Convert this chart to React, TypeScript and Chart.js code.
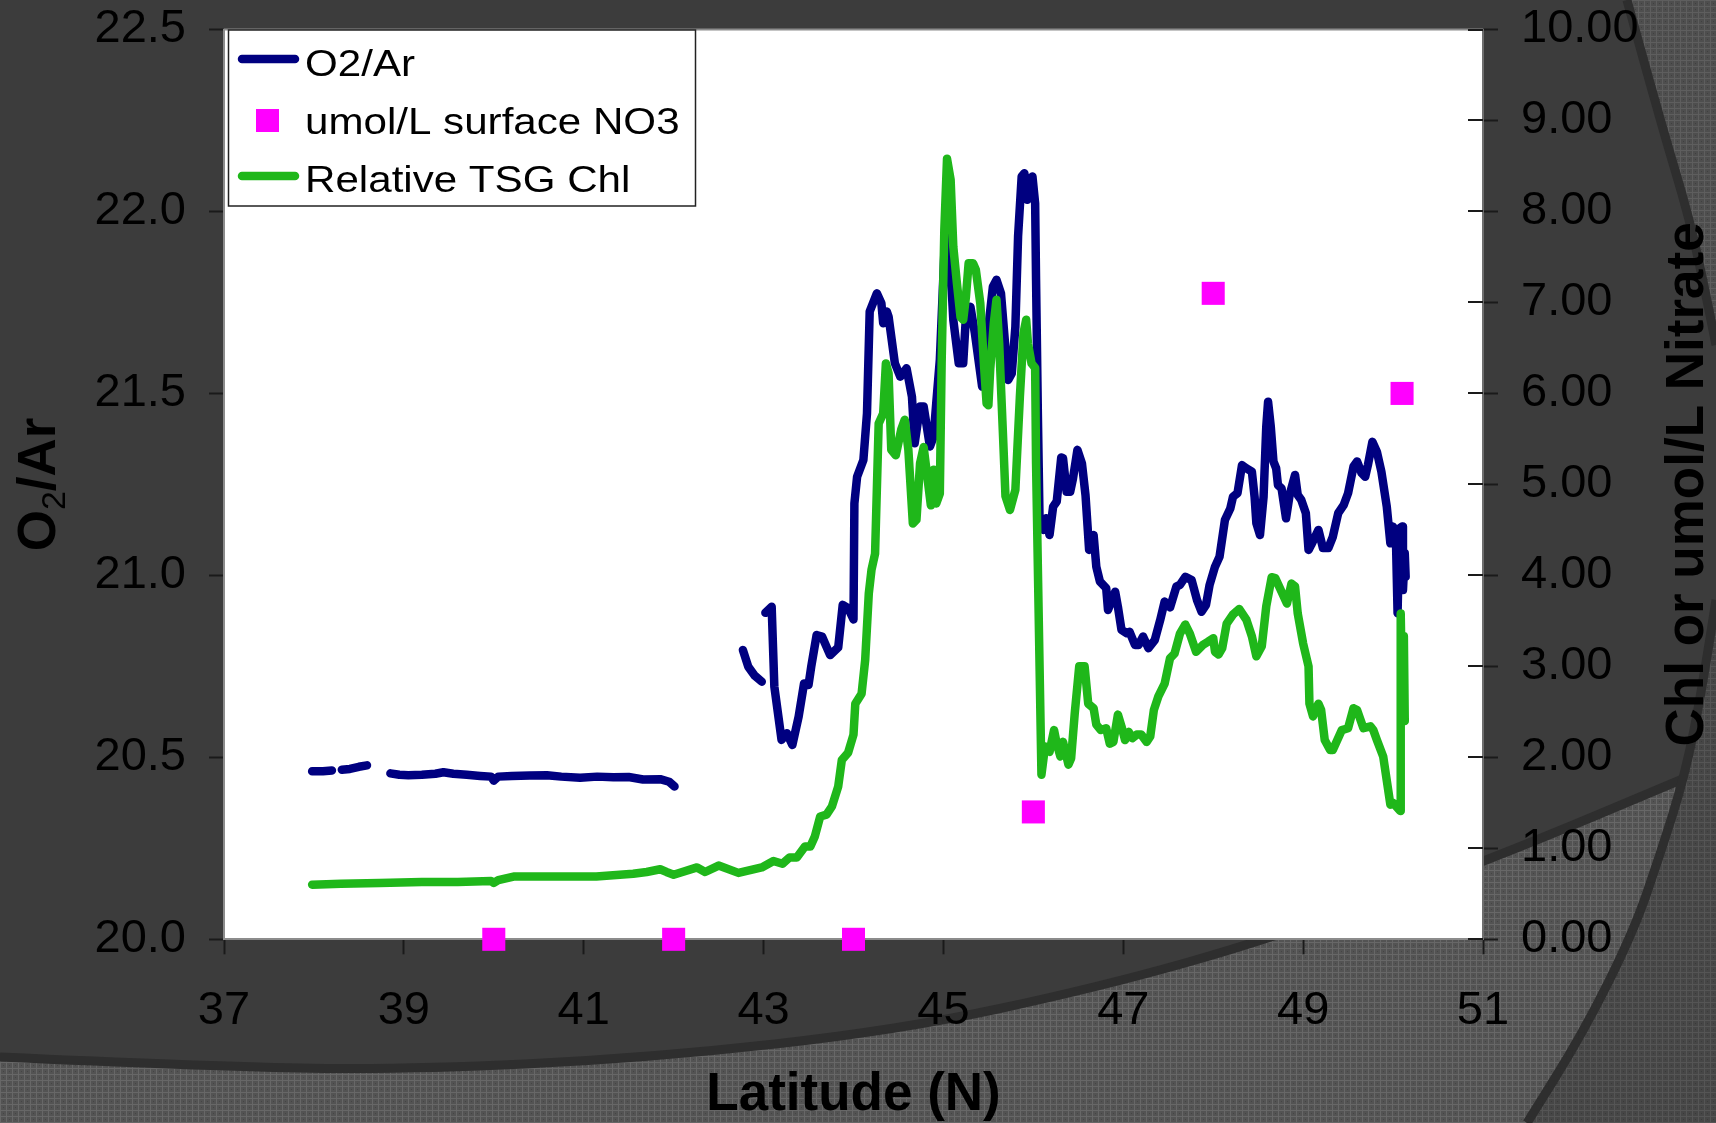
import React, { useEffect, useRef } from 'react';
import { Chart, registerables } from 'chart.js';

Chart.register(...registerables);

// ---------------- DATA ----------------
const seriesNames = ['O2/Ar', 'umol/L surface NO3', 'Relative TSG Chl'];

const latTicks = [37, 39, 41, 43, 45, 47, 49, 51];
const o2Ticks = [20.0, 20.5, 21.0, 21.5, 22.0, 22.5];
const chlTicks = [0, 1, 2, 3, 4, 5, 6, 7, 8, 9, 10];

// O2/Ar (left axis); null = gap in the record
const o2Lat = [
  37.98, 38.1, 38.2, 38.25,
  38.31, 38.4, 38.5, 38.59, 38.7,
  38.85, 38.95, 39.05, 39.2, 39.35, 39.44, 39.55, 39.7, 39.85, 39.97, 40.0, 40.05, 40.2, 40.4, 40.59, 40.75,
  40.96, 41.15, 41.33, 41.5, 41.66, 41.85, 41.95, 42.01, 42.3,
  42.77, 42.83, 42.9, 42.98, 43.0,
  43.02, 43.09, 43.12, 43.2, 43.26, 43.32, 43.39, 43.45, 43.5, 43.53, 43.59, 43.65, 43.74, 43.83, 43.88,
  43.94, 44.0, 44.01, 44.04, 44.11, 44.15, 44.18, 44.26, 44.31, 44.33, 44.37, 44.39, 44.46, 44.52, 44.59,
  44.65, 44.68, 44.74, 44.78, 44.85, 44.89, 44.92, 44.96, 45.04, 45.07, 45.11, 45.17, 45.22, 45.25, 45.3,
  45.35, 45.43, 45.48, 45.55, 45.59, 45.64, 45.7, 45.72, 45.76, 45.8, 45.83, 45.87, 45.9, 45.93, 45.96,
  45.99, 46.02, 46.03, 46.05, 46.07, 46.11, 46.14, 46.18, 46.22, 46.26, 46.31, 46.33, 46.37, 46.41, 46.44,
  46.49, 46.54, 46.58, 46.62, 46.67, 46.7, 46.74, 46.81, 46.83, 46.91, 46.94, 46.98, 47.04, 47.07, 47.13,
  47.17, 47.22, 47.28, 47.35, 47.41, 47.46, 47.52, 47.59, 47.63, 47.69, 47.76, 47.82, 47.87, 47.92, 47.96,
  48.02, 48.07, 48.13, 48.19, 48.22, 48.27, 48.32, 48.37, 48.43, 48.46, 48.48, 48.52, 48.56, 48.59, 48.61,
  48.64, 48.67, 48.7, 48.72, 48.76, 48.81, 48.85, 48.91, 48.94, 48.98, 49.03, 49.06, 49.09, 49.17, 49.22,
  49.28, 49.33, 49.39, 49.45, 49.5, 49.56, 49.6, 49.65, 49.69, 49.72, 49.77, 49.82, 49.87, 49.93, 49.97,
  50.0, 50.03, 50.05, 50.07, 50.1, 50.11, 50.13, 50.14,
];
const o2Val = [
  20.462, 20.462, 20.464, null,
  20.466, 20.468, 20.474, 20.478, null,
  20.456, 20.452, 20.451, 20.452, 20.455, 20.459, 20.455, 20.452, 20.449, 20.447, 20.436, 20.447, 20.449, 20.45, 20.451, 20.447,
  20.444, 20.447, 20.445, 20.446, 20.439, 20.44, 20.433, 20.42, null,
  20.795, 20.749, 20.725, 20.708, null,
  20.897, 20.914, 20.694, 20.548, 20.566, 20.534, 20.612, 20.703, 20.699, 20.749, 20.836, 20.832, 20.781, 20.802, 20.919,
  20.91, 20.879, 21.198, 21.271, 21.317, 21.445, 21.725, 21.775, 21.748, 21.693, 21.725, 21.711, 21.583, 21.546, 21.569,
  21.491, 21.363, 21.464, 21.464, 21.354, 21.381, 21.473, 21.592, 22.059, 21.885, 21.702, 21.583, 21.583, 21.711, 21.738,
  21.665, 21.519, 21.638, 21.793, 21.812, 21.775, 21.592, 21.537, 21.555, 21.683, 21.931, 22.096, 22.105, 22.032, 22.087,
  22.096, 22.022, 21.812, 21.445, 21.134, 21.125, 21.157, 21.111, 21.189, 21.203, 21.324, 21.322, 21.23, 21.23, 21.265,
  21.345, 21.308, 21.22, 21.07, 21.111, 21.024, 20.983, 20.965, 20.905, 20.955, 20.914, 20.85, 20.841, 20.845, 20.809,
  20.809, 20.832, 20.8, 20.822, 20.877, 20.928, 20.912, 20.969, 20.974, 20.996, 20.987, 20.932, 20.9, 20.919, 20.974,
  21.024, 21.051, 21.152, 21.184, 21.216, 21.226, 21.303, 21.294, 21.285, 21.216, 21.143, 21.111, 21.216, 21.409, 21.477,
  21.409, 21.313, 21.294, 21.248, 21.239, 21.157, 21.221, 21.276, 21.221, 21.207, 21.171, 21.07, 21.084, 21.125, 21.075,
  21.075, 21.106, 21.171, 21.193, 21.226, 21.299, 21.313, 21.281, 21.271, 21.303, 21.367, 21.34, 21.285, 21.189, 21.088,
  21.134, 21.12, 20.896, 21.129, 21.134, 20.96, 21.061, 20.996,
];

// Relative TSG Chl (right axis)
const chlLat = [
  37.98, 38.3, 38.73, 39.2, 39.6, 39.97, 40.0, 40.05, 40.22, 40.6, 41.14, 41.55, 41.7, 41.85, 41.92,
  42.0, 42.26, 42.35, 42.5, 42.72, 42.98, 43.11, 43.21, 43.29, 43.37, 43.46, 43.52, 43.57, 43.63, 43.7,
  43.76, 43.83, 43.87, 43.94, 44.0, 44.02, 44.09, 44.13, 44.17, 44.2, 44.24, 44.28, 44.33, 44.36, 44.39,
  44.42, 44.47, 44.53, 44.57, 44.61, 44.66, 44.7, 44.74, 44.78, 44.83, 44.86, 44.89, 44.92, 44.96, 44.98,
  45.01, 45.04, 45.08, 45.11, 45.15, 45.19, 45.22, 45.25, 45.28, 45.33, 45.36, 45.41, 45.45, 45.48, 45.5,
  45.52, 45.56, 45.59, 45.62, 45.66, 45.69, 45.74, 45.8, 45.85, 45.89, 45.92, 45.94, 45.98, 46.02, 46.03,
  46.09, 46.13, 46.18, 46.23, 46.26, 46.3, 46.33, 46.39, 46.42, 46.46, 46.51, 46.57, 46.61, 46.67, 46.7,
  46.75, 46.81, 46.85, 46.89, 46.94, 46.98, 47.02, 47.06, 47.1, 47.15, 47.2, 47.26, 47.3, 47.34, 47.39,
  47.46, 47.52, 47.57, 47.63, 47.69, 47.74, 47.81, 47.89, 47.94, 48.0, 48.02, 48.06, 48.1, 48.15, 48.22,
  48.29, 48.37, 48.43, 48.48, 48.54, 48.59, 48.65, 48.69, 48.76, 48.82, 48.87, 48.91, 48.94, 49.0, 49.06,
  49.07, 49.11, 49.17, 49.2, 49.24, 49.3, 49.33, 49.43, 49.5, 49.56, 49.6, 49.67, 49.75, 49.78, 49.82,
  49.89, 49.97, 50.0, 50.08, 50.085, 50.1, 50.12, 50.13,
];
const chlVal = [
  0.6, 0.61, 0.62, 0.63, 0.63, 0.64, 0.62, 0.65, 0.69, 0.69, 0.69, 0.72, 0.74, 0.77, 0.74,
  0.71, 0.79, 0.74, 0.81, 0.73, 0.79, 0.86, 0.83, 0.9, 0.9, 1.02, 1.02, 1.13, 1.35, 1.37,
  1.46, 1.68, 1.97, 2.05, 2.25, 2.59, 2.7, 3.07, 3.8, 4.06, 4.24, 5.67, 5.78, 6.33, 6.22,
  5.38, 5.32, 5.6, 5.71, 5.38, 4.57, 4.61, 5.23, 5.41, 5.01, 4.77, 5.16, 4.79, 4.9, 6.33,
  7.8, 8.58, 8.35, 7.61, 7.21, 6.84, 6.81, 7.06, 7.43, 7.43, 7.36, 6.99, 6.33, 5.89, 5.87,
  6.26, 6.77, 7.03, 6.55, 5.6, 4.87, 4.72, 4.94, 5.96, 6.66, 6.81, 6.55, 6.33, 6.28, 5.23,
  1.81, 2.12, 2.06, 2.3, 2.15, 2.01, 2.17, 1.92, 1.99, 2.48, 3.0, 3.0, 2.59, 2.54, 2.36,
  2.3, 2.32, 2.15, 2.17, 2.47, 2.34, 2.19, 2.28, 2.21, 2.25, 2.25, 2.17, 2.23, 2.52, 2.67,
  2.81, 3.09, 3.14, 3.36, 3.46, 3.36, 3.16, 3.24, 3.27, 3.31, 3.16, 3.13, 3.2, 3.47, 3.57,
  3.63, 3.51, 3.33, 3.11, 3.22, 3.66, 3.98, 3.97, 3.82, 3.69, 3.91, 3.88, 3.58, 3.25, 3.0,
  2.59, 2.45, 2.59, 2.52, 2.19, 2.08, 2.08, 2.3, 2.32, 2.54, 2.52, 2.32, 2.34, 2.3, 2.19,
  2.01, 1.48, 1.5, 1.41, 3.58, 2.7, 3.33, 2.4,
];

// umol/L surface NO3 (right axis)
const no3Lat = [40, 42, 44, 46, 48, 50.1];
const no3Val = [0, 0, 0, 1.4, 7.1, 6.0];

// ---------------- STYLE ----------------
const FONT = "'Liberation Sans', Arial, Helvetica, sans-serif";
const NAVY = '#000080';
const GREEN = '#1fb71a';
const MAGENTA = '#ff00ff';
const BG = '#3c3c3c';
const LINE_W = 8.5;

function makePattern(ctx: CanvasRenderingContext2D, base: string, line: string, dot: string) {
  const c = document.createElement('canvas');
  c.width = 6;
  c.height = 6;
  const g = c.getContext('2d')!;
  g.fillStyle = base;
  g.fillRect(0, 0, 6, 6);
  g.fillStyle = line;
  g.fillRect(0, 0, 6, 1);
  g.fillRect(0, 0, 1, 6);
  g.fillStyle = dot;
  g.fillRect(3, 3, 1, 1);
  return ctx.createPattern(c, 'repeat');
}

function smoothPath(ctx: CanvasRenderingContext2D, pts: number[][], move: boolean) {
  if (move) ctx.moveTo(pts[0][0], pts[0][1]);
  else ctx.lineTo(pts[0][0], pts[0][1]);
  for (let i = 1; i < pts.length - 1; i++) {
    const mx = (pts[i][0] + pts[i + 1][0]) / 2;
    const my = (pts[i][1] + pts[i + 1][1]) / 2;
    ctx.quadraticCurveTo(pts[i][0], pts[i][1], mx, my);
  }
  const last = pts[pts.length - 1];
  ctx.lineTo(last[0], last[1]);
}

const bottomCurve = [[0, 1057], [200, 1066], [400, 1070], [650, 1058], [900, 1030], [1100, 987], [1270, 939], [1483, 863], [1716, 765]];
const rightCurve = [[1716, 600], [1702, 690], [1685, 775], [1660, 855], [1633, 933], [1583, 1033], [1527, 1123]];
const topRightCurve = [[1627, 0], [1660, 120], [1690, 220], [1707, 300], [1716, 345]];

const backgroundPlugin = {
  id: 'slideBackground',
  beforeDraw(chart: any) {
    const { ctx, width, height, chartArea } = chart;
    ctx.save();
    ctx.fillStyle = BG;
    ctx.fillRect(0, 0, width, height);

    // bottom textured region
    ctx.beginPath();
    ctx.moveTo(0, height);
    smoothPath(ctx, bottomCurve, false);
    ctx.lineTo(width, height);
    ctx.closePath();
    ctx.fillStyle = makePattern(ctx, '#535353', '#676767', '#454545');
    ctx.fill();
    ctx.beginPath();
    smoothPath(ctx, bottomCurve, true);
    ctx.strokeStyle = '#2e2e2e';
    ctx.lineWidth = 9;
    ctx.stroke();

    // right lower textured region
    ctx.beginPath();
    smoothPath(ctx, rightCurve, true);
    ctx.lineTo(width, height);
    ctx.closePath();
    ctx.fillStyle = makePattern(ctx, '#464646', '#555555', '#3a3a3a');
    ctx.fill();
    ctx.beginPath();
    smoothPath(ctx, rightCurve, true);
    ctx.strokeStyle = '#2e2e2e';
    ctx.lineWidth = 9;
    ctx.stroke();

    // top right textured region
    ctx.beginPath();
    smoothPath(ctx, topRightCurve, true);
    ctx.lineTo(width, 0);
    ctx.closePath();
    ctx.fillStyle = makePattern(ctx, '#4e4e4e', '#5e5e5e', '#404040');
    ctx.fill();
    ctx.beginPath();
    smoothPath(ctx, topRightCurve, true);
    ctx.strokeStyle = '#2e2e2e';
    ctx.lineWidth = 9;
    ctx.stroke();

    // plot area
    ctx.fillStyle = '#ffffff';
    ctx.fillRect(chartArea.left, chartArea.top, chartArea.right - chartArea.left, chartArea.bottom - chartArea.top);
    ctx.strokeStyle = '#8c8c8c';
    ctx.lineWidth = 2;
    ctx.beginPath();
    ctx.moveTo(chartArea.left, chartArea.top);
    ctx.lineTo(chartArea.right, chartArea.top);
    ctx.stroke();
    ctx.restore();
  },
};

const decorPlugin = {
  id: 'decor',
  afterDraw(chart: any) {
    const { ctx, chartArea, scales } = chart;
    ctx.save();

    // inner half of the right axis tick marks
    const y1 = scales.y1;
    ctx.strokeStyle = '#1a1a1a';
    ctx.lineWidth = 2;
    chlTicks.forEach((v) => {
      const py = Math.round(y1.getPixelForValue(v));
      ctx.beginPath();
      ctx.moveTo(chartArea.right - 15, py);
      ctx.lineTo(chartArea.right, py);
      ctx.stroke();
    });

    // axis titles
    ctx.fillStyle = '#000';
    ctx.textBaseline = 'alphabetic';
    ctx.font = `bold 53px ${FONT}`;
    ctx.textAlign = 'center';
    ctx.fillText('Latitude (N)', (chartArea.left + chartArea.right) / 2, 1110);

    const cy = (chartArea.top + chartArea.bottom) / 2;
    // left: O2/Ar with subscript
    ctx.save();
    ctx.translate(55, cy);
    ctx.rotate(-Math.PI / 2);
    ctx.textAlign = 'left';
    const big = `bold 53px ${FONT}`;
    const small = `34px ${FONT}`;
    ctx.font = big;
    const wO = ctx.measureText('O').width;
    const wAr = ctx.measureText('/Ar').width;
    ctx.font = small;
    const w2 = ctx.measureText('2').width;
    let x0 = -(wO + w2 + wAr) / 2;
    ctx.font = big;
    ctx.fillText('O', x0, 0);
    x0 += wO;
    ctx.font = small;
    ctx.fillText('2', x0, 10);
    x0 += w2;
    ctx.font = big;
    ctx.fillText('/Ar', x0, 0);
    ctx.restore();

    // right title
    ctx.save();
    ctx.translate(1703, cy);
    ctx.rotate(-Math.PI / 2);
    ctx.font = `bold 53px ${FONT}`;
    ctx.textAlign = 'center';
    ctx.fillText('Chl or umol/L Nitrate', 0, 0);
    ctx.restore();

    // legend
    const lx = 228.5, ly = 30, lw = 467, lh = 176;
    ctx.fillStyle = '#ffffff';
    ctx.fillRect(lx, ly, lw, lh);
    ctx.strokeStyle = '#222';
    ctx.lineWidth = 1.5;
    ctx.strokeRect(lx, ly, lw, lh);

    ctx.lineCap = 'round';
    ctx.lineWidth = LINE_W;
    ctx.strokeStyle = NAVY;
    ctx.beginPath();
    ctx.moveTo(242, 59);
    ctx.lineTo(295, 59);
    ctx.stroke();
    ctx.strokeStyle = GREEN;
    ctx.beginPath();
    ctx.moveTo(242, 176);
    ctx.lineTo(295, 176);
    ctx.stroke();
    ctx.fillStyle = MAGENTA;
    ctx.fillRect(256, 109, 23, 23);

    ctx.fillStyle = '#000';
    ctx.font = `36px ${FONT}`;
    ctx.textAlign = 'left';
    const baselines = [76, 134, 192];
    seriesNames.forEach((name, i) => {
      ctx.save();
      ctx.translate(305, baselines[i]);
      ctx.scale(1.17, 1);
      ctx.fillText(name, 0, 0);
      ctx.restore();
    });

    ctx.restore();
  },
};

const tickFont = { family: FONT, size: 47 };

export default function App() {
  const ref = useRef<HTMLCanvasElement>(null);

  useEffect(() => {
    document.body.style.margin = '0';
    const canvas = ref.current;
    if (!canvas) return;

    const chart = new Chart(canvas, {
      type: 'line',
      data: {
        datasets: [
          {
            label: seriesNames[1],
            type: 'scatter',
            data: no3Lat.map((x, i) => ({ x, y: no3Val[i] })),
            yAxisID: 'y1',
            pointStyle: 'rect',
            pointRadius: 16.3,
            pointBorderWidth: 0,
            backgroundColor: MAGENTA,
            borderColor: MAGENTA,
            showLine: false,
            clip: false,
            order: 0,
          } as any,
          {
            label: seriesNames[2],
            data: chlLat.map((x, i) => ({ x, y: chlVal[i] })),
            yAxisID: 'y1',
            borderColor: GREEN,
            backgroundColor: GREEN,
            borderWidth: LINE_W,
            pointRadius: 0,
            tension: 0,
            borderCapStyle: 'round',
            borderJoinStyle: 'round',
            spanGaps: false,
            order: 1,
          },
          {
            label: seriesNames[0],
            data: o2Lat.map((x, i) => ({ x, y: o2Val[i] })),
            yAxisID: 'y',
            borderColor: NAVY,
            backgroundColor: NAVY,
            borderWidth: LINE_W,
            pointRadius: 0,
            tension: 0,
            borderCapStyle: 'round',
            borderJoinStyle: 'round',
            spanGaps: false,
            order: 2,
          },
        ],
      },
      options: {
        responsive: false,
        animation: false,
        devicePixelRatio: 1,
        layout: { padding: { top: 29.5, left: 0, right: 0, bottom: 0 } },
        plugins: {
          legend: { display: false },
          tooltip: { enabled: false },
        },
        scales: {
          x: {
            type: 'linear',
            position: 'bottom',
            min: 37,
            max: 51,
            afterBuildTicks: (s: any) => {
              s.ticks = latTicks.map((v) => ({ value: v }));
            },
            afterFit: (s: any) => {
              s.height = 1123 - 939.3;
              s.paddingLeft = 0;
              s.paddingRight = 0;
            },
            ticks: { font: tickFont, color: '#000', padding: 29, maxRotation: 0, autoSkip: false },
            grid: { drawOnChartArea: false, drawTicks: true, tickLength: 15, tickColor: '#1a1a1a', tickWidth: 2 },
            border: { display: true, color: '#8c8c8c', width: 2 },
          },
          y: {
            type: 'linear',
            position: 'left',
            min: 20,
            max: 22.5,
            afterBuildTicks: (s: any) => {
              s.ticks = o2Ticks.map((v) => ({ value: v }));
            },
            afterFit: (s: any) => {
              s.width = 224;
              s.paddingTop = 0;
              s.paddingBottom = 0;
            },
            ticks: { font: tickFont, color: '#000', padding: 23, callback: (v: any) => Number(v).toFixed(1) },
            grid: { drawOnChartArea: false, drawTicks: true, tickLength: 15, tickColor: '#1a1a1a', tickWidth: 2 },
            border: { display: true, color: '#8c8c8c', width: 2 },
          },
          y1: {
            type: 'linear',
            position: 'right',
            min: 0,
            max: 10,
            afterBuildTicks: (s: any) => {
              s.ticks = chlTicks.map((v) => ({ value: v }));
            },
            afterFit: (s: any) => {
              s.width = 1716 - 1483;
              s.paddingTop = 0;
              s.paddingBottom = 0;
            },
            ticks: { font: tickFont, color: '#000', padding: 23, callback: (v: any) => Number(v).toFixed(2) },
            grid: { drawOnChartArea: false, drawTicks: true, tickLength: 15, tickColor: '#1a1a1a', tickWidth: 2 },
            border: { display: true, color: '#6e6e6e', width: 2 },
          },
        },
      } as any,
      plugins: [backgroundPlugin, decorPlugin],
    });

    return () => chart.destroy();
  }, []);

  return (
    <div style={{ position: 'fixed', left: 0, top: 0, width: 1716, height: 1123 }}>
      <canvas ref={ref} width={1716} height={1123} style={{ display: 'block', width: 1716, height: 1123 }} />
    </div>
  );
}
